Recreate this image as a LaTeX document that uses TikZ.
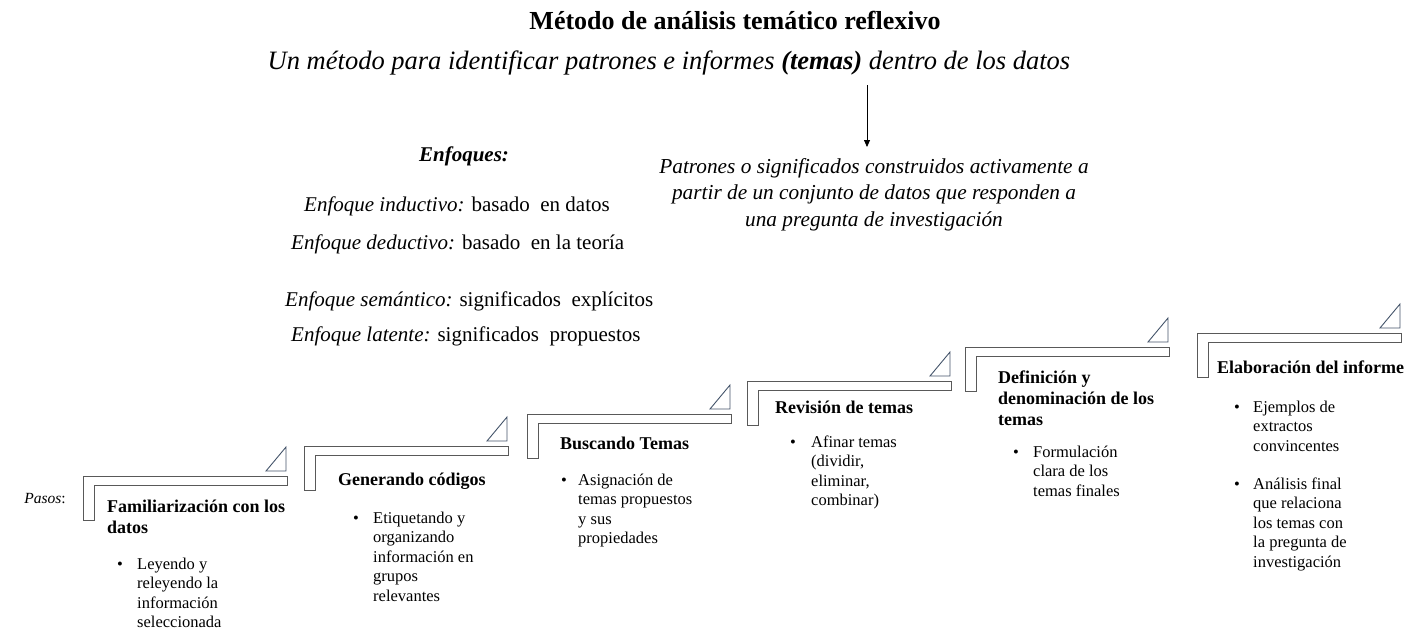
\documentclass[tikz,border=0pt]{standalone}
\usepackage{fontspec}
\setmainfont{Liberation Serif}
\usetikzlibrary{arrows.meta}
\definecolor{bracketgray}{HTML}{595959}
\definecolor{trigray}{HTML}{44546A}
\tikzset{
  bracket/.style={draw=bracketgray, line width=0.9pt, fill=white},
  tri/.style={draw=trigray, line width=0.9pt},
  steptitle/.style={anchor=base west, inner sep=0pt, align=left, font=\fontsize{18}{21}\selectfont\bfseries},
  bodytxt/.style={anchor=base west, inner sep=0pt, align=left, font=\fontsize{16.5}{19.5}\selectfont},
  bul/.style={anchor=base west, inner sep=0pt, font=\fontsize{16.5}{19.5}\selectfont},
  enftxt/.style={anchor=base west, inner sep=0pt, font=\fontsize{21}{25}\selectfont},
}
\newcommand\stepframe[2]{%
  \draw[bracket] (#1,#2) -- ++(204,0) -- ++(0,9) -- ++(-193,0) -- ++(0,35) -- ++(-11,0) -- cycle;
  \draw[tri] (#1+203,#2-5) -- ++(-20,0) -- ++(20,-24) -- cycle;}
\begin{document}
\begin{tikzpicture}[x=1pt,y=-1pt]
\useasboundingbox[fill=white] (0,0) rectangle (1411,632);
% title
\node[anchor=base, inner sep=0pt, font=\fontsize{26}{30}\selectfont\bfseries] (title) at (735,29) {Método de análisis temático reflexivo};
\node[anchor=base, inner sep=0pt, font=\fontsize{26.5}{30}\selectfont\itshape] (subtitle) at (669,69) {Un método para identificar patrones e informes \textbf{(temas)} dentro de los datos};
% patrones (base anchor = last line)
\node[anchor=base, inner sep=0pt, align=center, font=\fontsize{21.3}{26.5}\selectfont\itshape] (patrones) at (874,173+2*26.5) {Patrones o significados construidos activamente a\\partir de un conjunto de datos que responden a\\una pregunta de investigación};
\coordinate (arrowtop) at (867,85);
\coordinate (arrowtip) at (867,147);
\draw[line width=0.8pt, -{Triangle[length=7pt,width=6pt]}] (arrowtop) -- (arrowtip);
% enfoques
\node[anchor=base, inner sep=0pt, font=\fontsize{21}{25}\selectfont\bfseries\itshape] (enf) at (464,161) {Enfoques:};
\node[enftxt] (enf1) at (304,211) {\textit{Enfoque inductivo:} basado \ en datos};
\node[enftxt] (enf2) at (291,249) {\textit{Enfoque deductivo:} basado \ en la teoría};
\node[enftxt] (enf3) at (285,306) {\textit{Enfoque semántico:} significados \ explícitos};
\node[enftxt] (enf4) at (291,341) {\textit{Enfoque latente:} significados \ propuestos};
% pasos
\node[anchor=base east, inner sep=0pt, font=\fontsize{15.5}{19.5}\selectfont] (pasos) at (66,503) {\textit{Pasos}:};
% steps
\stepframe{83}{476}
\stepframe{304}{446}
\stepframe{527}{414}
\stepframe{747}{381}
\stepframe{965}{347}
\stepframe{1197}{333}
% step 1
\node[steptitle] (s1t) at (107,512+21) {Familiarización con los\\datos};
\node[bul] (s1b) at (117,569) {•};
\node[bodytxt] (s1x) at (137,569+3*19.5) {Leyendo y\\releyendo la\\información\\seleccionada};
% step 2
\node[steptitle] (s2t) at (338,485) {Generando códigos};
\node[bul] (s2b) at (353,523) {•};
\node[bodytxt] (s2x) at (373,523+4*19.5) {Etiquetando y\\organizando\\información en\\grupos\\relevantes};
% step 3
\node[steptitle] (s3t) at (560,449) {Buscando Temas};
\node[bul] (s3b) at (561,485) {•};
\node[bodytxt] (s3x) at (578,485+3*19.5) {Asignación de\\temas propuestos\\y sus\\propiedades};
% step 4
\node[steptitle] (s4t) at (775,413) {Revisión de temas};
\node[bul] (s4b) at (790,447) {•};
\node[bodytxt] (s4x) at (811,447+3*19.5) {Afinar temas\\(dividir,\\eliminar,\\combinar)};
% step 5
\node[steptitle] (s5t) at (998,383+2*21) {Definición y\\denominación de los\\temas};
\node[bul] (s5b) at (1013,457) {•};
\node[bodytxt] (s5x) at (1033,457+2*19.5) {Formulación\\clara de los\\temas finales};
% step 6
\node[steptitle] (s6t) at (1217,373) {Elaboración del informe};
\node[bul] (s6b) at (1234,412) {•};
\node[bodytxt] (s6x) at (1253,412+2*19.5) {Ejemplos de\\extractos\\convincentes};
\node[bul] (s6c) at (1234,489) {•};
\node[bodytxt] (s6y) at (1253,489+4*19.5) {Análisis final\\que relaciona\\los temas con\\la pregunta de\\investigación};
\end{tikzpicture}
\end{document}
